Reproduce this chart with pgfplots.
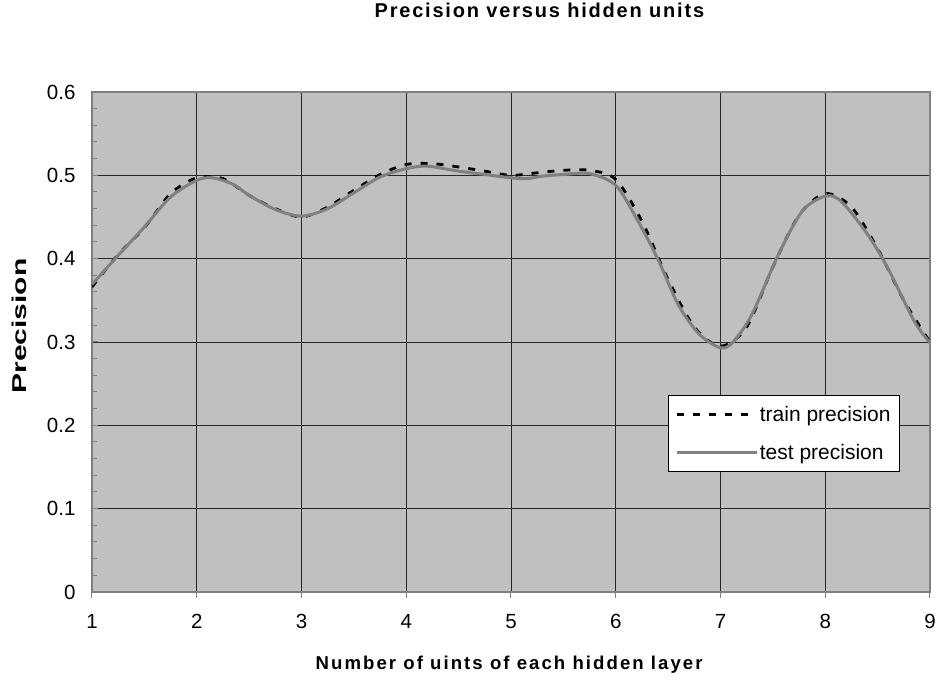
\documentclass[border=0pt]{standalone}
\usepackage{pgfplots}
\pgfplotsset{compat=1.18}
\usepackage{fontspec}
\setmainfont{Liberation Sans}
\definecolor{bggray}{RGB}{192,192,192}
\definecolor{linegray}{RGB}{128,128,128}
\begin{document}
\begin{tikzpicture}
\begin{axis}[
  scale only axis,
  width=838pt, height=500pt,
  xmin=1, xmax=9, ymin=0, ymax=0.6,
  xtick={1,...,9},
  ytick={0,0.1,...,0.6},
  minor y tick num=4,
  yticklabel style={/pgf/number format/fixed,/pgf/number format/precision=1},
  /pgf/number format/assume math mode=true,
  tick label style={font=\fontsize{20.5}{24}\selectfont},
  axis background/.style={fill=bggray},
  axis line style={draw=linegray, line width=1.5pt},
  grid=major,
  major grid style={black!85, line width=0.8pt},
  tick style={linegray, line width=1pt},
  xtick pos=bottom, ytick pos=left,
  major tick length=6pt, minor tick length=5pt,
  xtick align=outside, ytick align=inside,
  xticklabel style={yshift=-13pt},
  yticklabel style={xshift=-13pt},
  title={\addfontfeature{LetterSpace=9}\textbf{Precision versus hidden units}},
  title style={at={(0.535,1.136)}, anchor=base, font=\fontsize{20}{22}\selectfont},
  xlabel={\addfontfeature{LetterSpace=11}\textbf{Number of uints of each hidden layer}},
  xlabel style={at={(0.499,-0.156)}, anchor=base, font=\fontsize{18.6}{22}\selectfont},
  ylabel={\scalebox{1.5}[1]{\textbf{Precision}}},
  ylabel style={at={(-0.0776,0.532)}, anchor=base, rotate=0, font=\fontsize{20}{22}\selectfont},
  legend style={at={(0.687,0.394)}, anchor=north west, draw=black, fill=white,
    font=\fontsize{21}{24}\selectfont, row sep=17pt, inner xsep=8pt, inner ysep=9pt,
    nodes={inner xsep=1pt}},
  legend cell align=left,
  legend image code/.code={\draw[#1] (0pt,0pt) -- (80pt,0pt);},
]
\addplot[black, line width=2.8pt, dash pattern=on 7pt off 9pt, smooth, tension=0.5] coordinates {
(1,0.366) (1.25,0.405) (1.5,0.437) (1.75,0.478) (2,0.497) (2.25,0.496) (2.5,0.476)
(2.75,0.460) (3,0.450) (3.25,0.462) (3.5,0.482) (3.75,0.501) (4,0.513) (4.25,0.514)
(4.5,0.510) (4.75,0.505) (5,0.500) (5.25,0.503) (5.5,0.506) (5.75,0.506) (6,0.495)
(6.25,0.445) (6.5,0.375) (6.75,0.318) (7,0.295) (7.25,0.318) (7.5,0.390) (7.75,0.452)
(8,0.478) (8.25,0.462) (8.5,0.412) (8.75,0.350) (9,0.300)
};
\addlegendentry{train precision}
\addplot[linegray, line width=3pt, smooth, tension=0.5] coordinates {
(1,0.369) (1.25,0.404) (1.5,0.438) (1.75,0.474) (2,0.494) (2.15,0.497) (2.35,0.489)
(2.5,0.476) (2.75,0.459) (3,0.451) (3.25,0.460) (3.5,0.479) (3.75,0.498) (4,0.508)
(4.2,0.511) (4.5,0.505) (4.75,0.501) (5,0.497) (5.15,0.496) (5.3,0.499) (5.5,0.501)
(5.75,0.502) (6,0.488) (6.2,0.448) (6.4,0.400) (6.6,0.344) (6.8,0.309) (7,0.293)
(7.12,0.300) (7.3,0.333) (7.55,0.404) (7.78,0.457) (8,0.475) (8.15,0.469) (8.4,0.430)
(8.6,0.388) (8.85,0.325) (9,0.299)
};
\addlegendentry{test precision}
\end{axis}
\path (current axis.south west) ++(-92pt,-89pt) coordinate (bbsw);
\path (current axis.north east) ++(9pt,92pt) coordinate (bbne);
\path (bbsw) rectangle (bbne);
\end{tikzpicture}
\end{document}
